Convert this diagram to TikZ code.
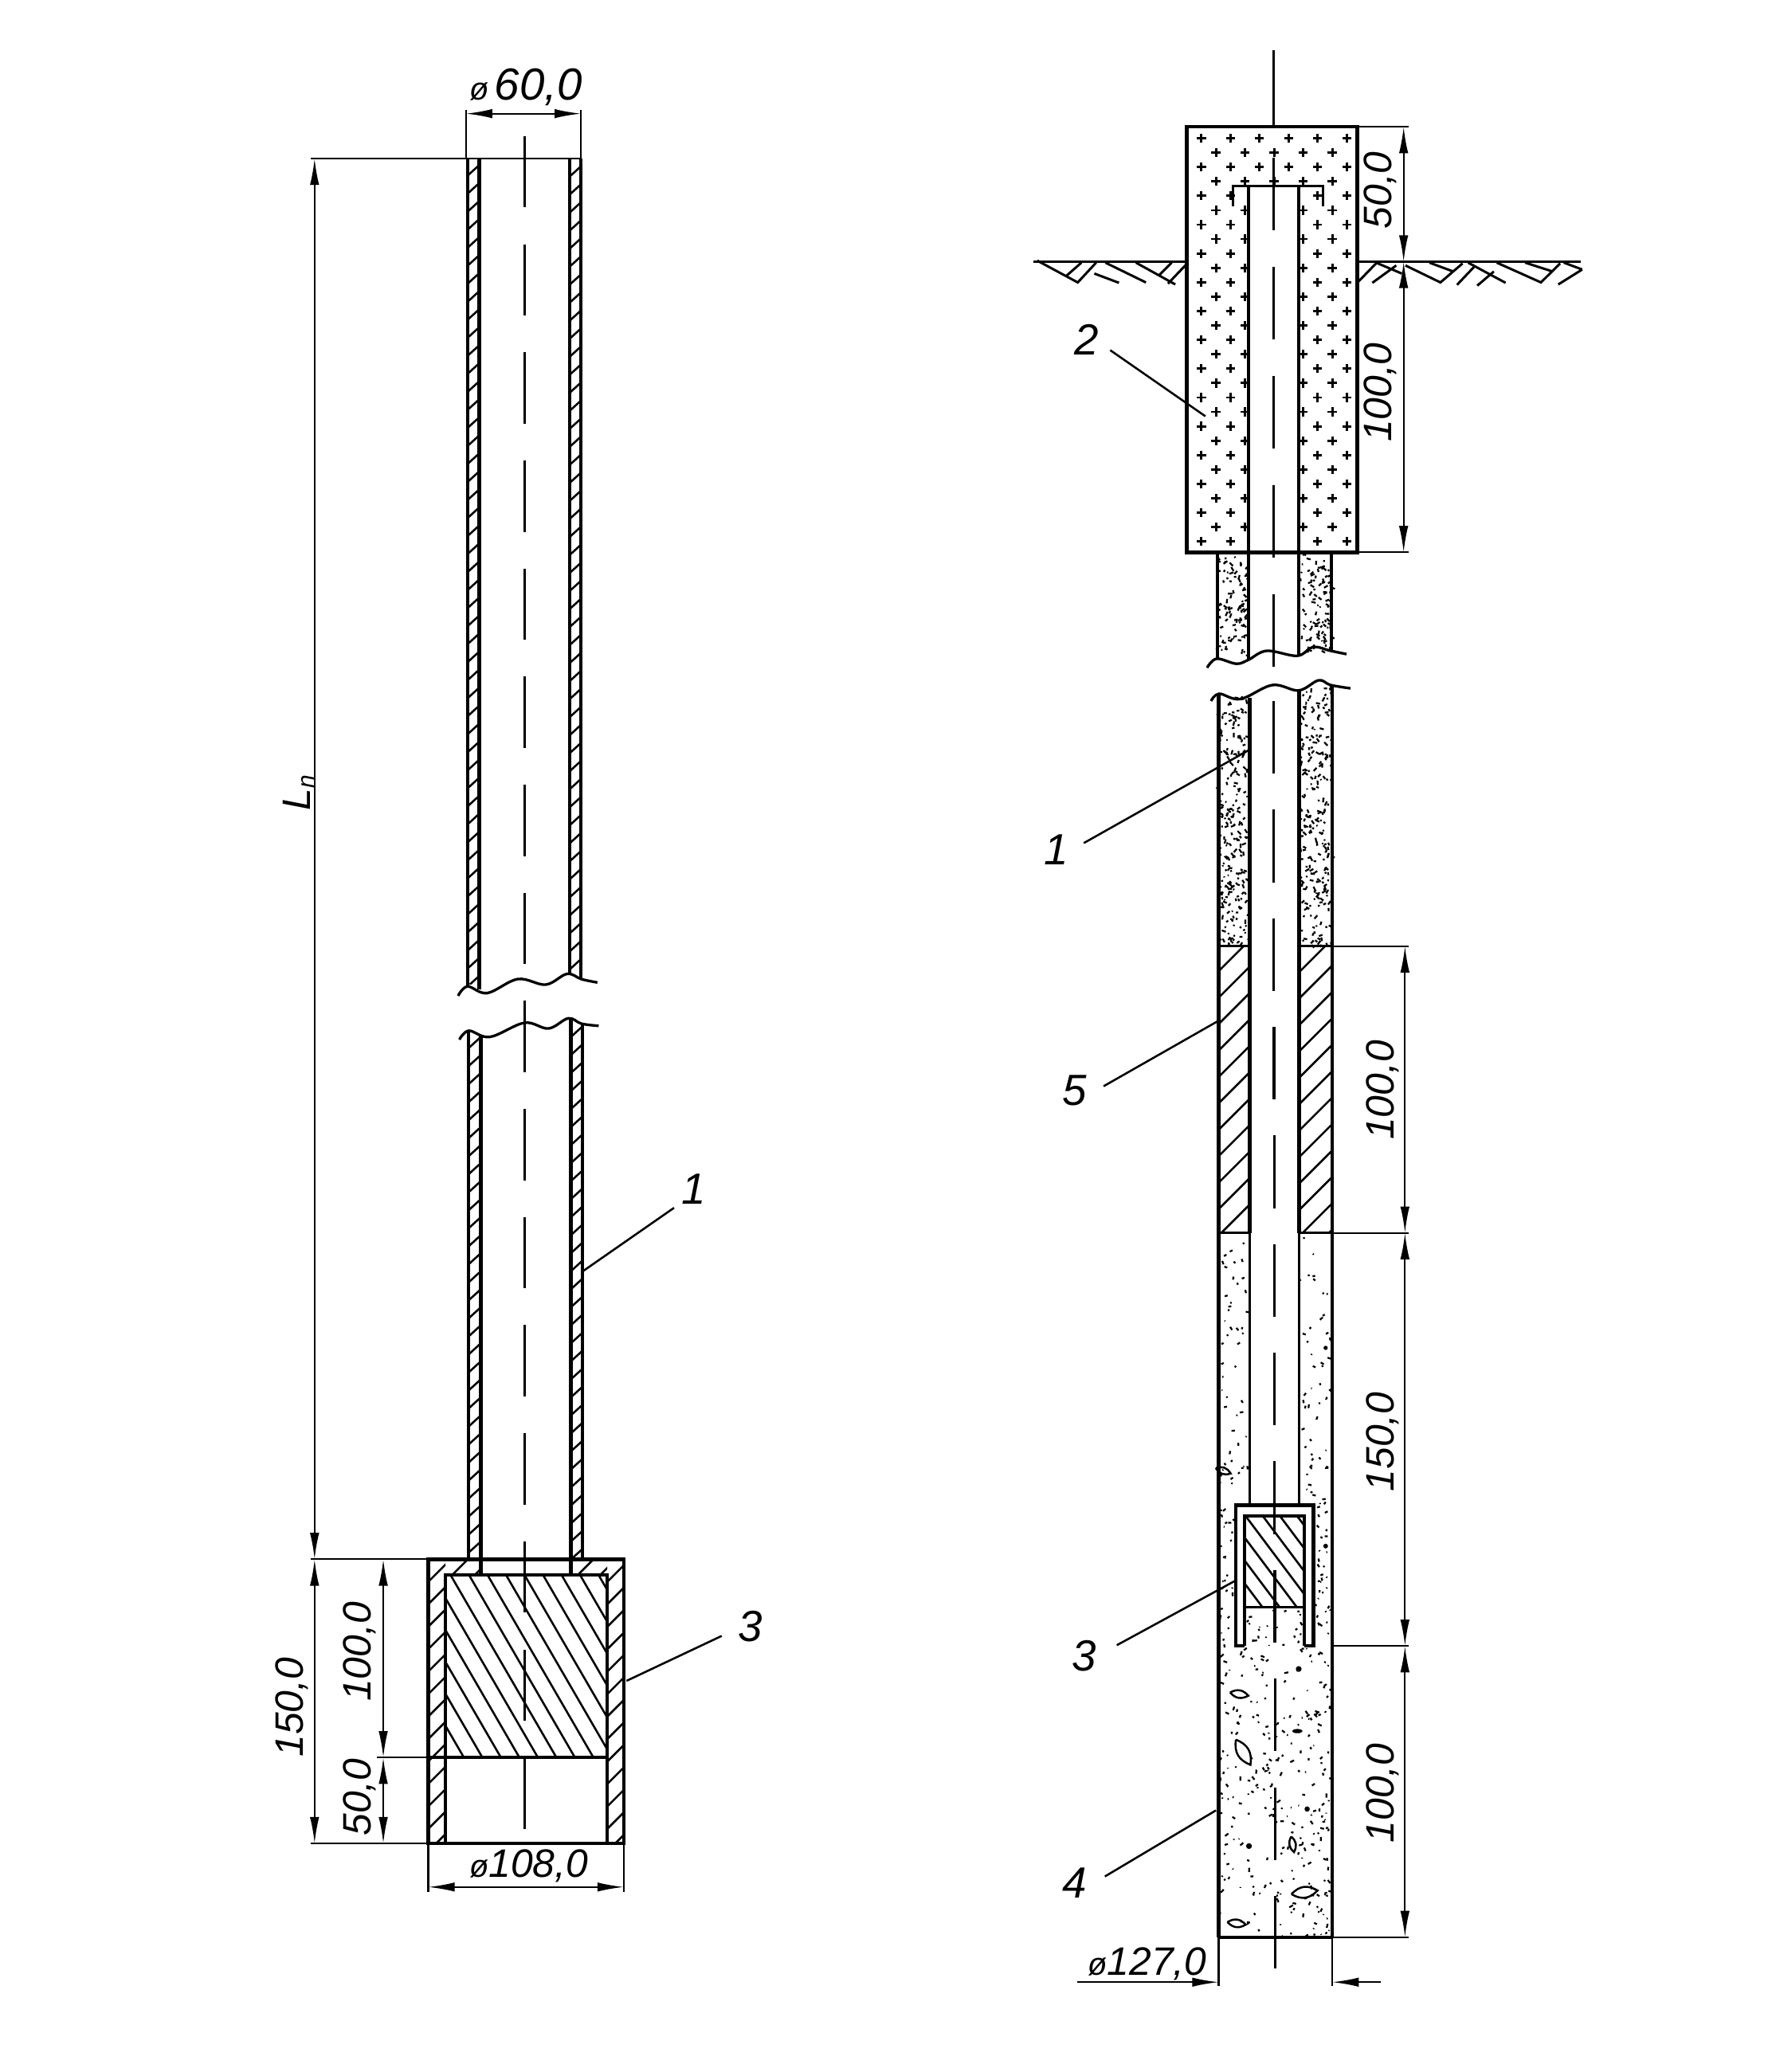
\documentclass[tikz,border=0pt]{standalone}
\usepackage{fontspec}
\setmainfont{Liberation Sans}
\usetikzlibrary{arrows.meta}
\newcommand{\hatchrect}[6]{\begin{scope}
  \clip (#1,#2) rectangle (#3,#4);
  \pgfmathtruncatemacro{\hcount}{((#3-#1)+abs(#6)*(#4-#2))/#5+1}
  \foreach \hk in {0,...,\hcount}{
    \draw[thinl] ({#1-max(#6,0)*(#4-#2)+\hk*#5},#4) -- ++({#6*(#4-#2)},{-(#4-#2)});
  }
\end{scope}}
\newcommand{\specks}[7]{% x1 y1 x2 y2 count minlen maxlen
  \foreach \sk in {1,...,#5}{
    \pgfmathsetmacro{\spx}{#1+rnd*(#3-#1)}
    \pgfmathsetmacro{\spy}{#2+rnd*(#4-#2)}
    \pgfmathsetmacro{\spa}{rnd*180}
    \pgfmathsetmacro{\spl}{#6+rnd*(#7-#6)}
    \draw[line width=1.35pt] (\spx,\spy) -- ++(\spa:\spl);
  }}
\newcommand{\crossmark}[2]{\draw[line width=1.7pt] (#1-3.4,#2) -- (#1+3.4,#2) (#1,#2-3.4) -- (#1,#2+3.4);}
\newcommand{\lens}[4]{\draw[line width=1.5pt,rotate around={#4:(#1,#2)}] (#1-#3,#2) .. controls (#1-#3*.3,#2-#3*.55) and (#1+#3*.3,#2-#3*.55) .. (#1+#3,#2) .. controls (#1+#3*.3,#2+#3*.55) and (#1-#3*.3,#2+#3*.55) .. (#1-#3,#2);}
\tikzset{
  thickl/.style={line width=2.6pt},
  thinl/.style={line width=1.55pt},
  centre/.style={line width=1.9pt},
  dimline/.style={line width=1.3pt},
  dimarrow/.style={line width=1.3pt,{Latex[length=20pt,width=7pt]}-{Latex[length=20pt,width=7pt]}},
  oneend/.style={line width=1.3pt,-{Latex[length=20pt,width=7pt]}},
  wave/.style={line width=2pt,smooth,tension=.6},
  dimtext/.style={font=\fontsize{30}{30}\selectfont\itshape,inner sep=0pt},
  numtext/.style={font=\fontsize{33}{33}\selectfont\itshape,inner sep=0pt},
}
\newcommand{\dia}{{\fontsize{24}{24}\selectfont ø}}
\begin{document}
\begin{tikzpicture}[x=1pt,y=-1pt,line cap=butt]
\useasboundingbox (0,0) rectangle (1340.7,1568);
\fill[white] (0,0) rectangle (1340.7,1568);

%% ================ LEFT FIGURE ================
% wall hatching
\hatchrect{353}{120}{362.7}{745}{15}{1.1}
\hatchrect{431}{120}{439.6}{737}{15}{1.1}
\hatchrect{354}{780}{363.8}{1180}{15}{1.1}
\hatchrect{432}{771}{440.8}{1180}{15}{1.1}
\hatchrect{324}{1180}{337}{1395}{17}{1}
\hatchrect{459.5}{1180}{472}{1395}{17}{1}
\hatchrect{337}{1180}{363.8}{1192}{17}{1}
\hatchrect{432}{1180}{459.5}{1192}{17}{1}
\hatchrect{337}{1192}{459.5}{1330}{14}{-0.58}
% tube walls
\draw[thickl] (353.7,746.5) -- (353.7,120) (362.7,120) -- (362.7,749);
\draw[thickl] (431,737) -- (431,120) (439.6,120) -- (439.6,741);
\draw[thickl] (354.5,780) -- (354.5,1180) (363.8,783) -- (363.8,1192);
\draw[thickl] (432,771) -- (432,1192) (440.8,775) -- (440.8,1180);
% wavy break lines
\draw[wave] plot coordinates {(346.6,753.6) (353.7,746.5) (368.7,751.5) (391.8,740.9) (412.9,745.1) (429,737) (440,741) (452,743.5)};
\draw[wave] plot coordinates {(347.6,786.7) (354.7,780) (370.7,784.7) (396.8,774) (415,778.3) (430,770.6) (440,774.7) (453,776.3)};
% box
\draw[thickl] (324,1180) rectangle (472,1395);
\draw[thickl] (337,1395) -- (337,1192) -- (459.5,1192) -- (459.5,1395);
\draw[thickl] (324,1330) -- (459.5,1330);
\draw[thinl] (353.7,120) -- (235,120);
\draw[thinl] (353.7,120) -- (439.6,120);
% centre line
\foreach \k in {0,...,15}{\draw[centre] (396.8,{103+81.8*\k}) -- ++(0,54);}
% dimensions
\draw[dimline] (352.5,83) -- (352.5,120) (439.6,83) -- (439.6,120);
\draw[dimarrow] (352.5,86) -- (439.6,86);
\node[dimtext,font=\fontsize{34}{34}\selectfont\itshape] (d60) at (398,66) {\dia\hspace{4pt}60,0};
\draw[dimarrow] (238,120) -- (238,1180);
\node[dimtext,rotate=90] (dLn) at (226,600) {L{\fontsize{18}{18}\selectfont\raisebox{-3pt}{n}}};
\draw[dimline] (235,1180) -- (324,1180) (235,1395) -- (324,1395) (285,1330) -- (324,1330);
\draw[dimarrow] (238,1180) -- (238,1395);
\node[dimtext,rotate=90] (d150) at (221,1292) {150,0};
\draw[dimarrow] (290,1180) -- (290,1330);
\draw[dimarrow] (290,1330) -- (290,1395);
\node[dimtext,rotate=90] (d100a) at (272,1250) {100,0};
\node[dimtext,rotate=90] (d50a) at (272,1360) {50,0};
\draw[dimline] (324,1395) -- (324,1432) (472,1395) -- (472,1432);
\draw[dimarrow] (324,1428) -- (472,1428);
\node[dimtext] (d108) at (400,1412) {\dia 108,0};
% leaders
\node[numtext] (n1l) at (525,900) {1};
\node[numtext] (n3l) at (568,1231) {3};
\coordinate (t1l) at (441,962);
\coordinate (t3l) at (474,1272);
\draw[thinl] (t1l) -- (510,914);
\draw[thinl] (t3l) -- (546,1238);

%% ================ RIGHT FIGURE ================
% crosses
\foreach \r in {0,...,28}{
  \pgfmathsetmacro{\yy}{104.6+10.9*\r}
  \pgfmathtruncatemacro{\odd}{mod(\r,2)}
  \ifnum\odd=0
    \foreach \xx in {909,931,953,975,997,1019}{\crossmark{\xx}{\yy}}
  \else
    \foreach \xx in {920,942,964,986,1008}{\crossmark{\xx}{\yy}}
  \fi
}
\fill[white] (944.6,141) rectangle (982.6,418);
\draw[thickl] (898,96) rectangle (1027,418);
\draw[line width=1.9pt] (933,156) -- (933,141) -- (1001,141) -- (1001,156);
\draw[thickl] (944.6,418) -- (944.6,141) (982.6,141) -- (982.6,418);
% ground
\draw[thinl,line width=1.8pt] (782,198) -- (898,198) (1027,198) -- (1196,198);
\begin{scope}[shift={(782,31.17)},x=.2786pt,y=-.3058pt]
\draw[line width=1.8pt] (10,543) -- (120,597) -- (170,548) (90,580) -- (130,548) (165,575) -- (232,598) (195,548) -- (305,597) (278,548) -- (385,602) (340,580) -- (375,548) (365,600) -- (412,555);
\draw[line width=1.8pt] (880,597) -- (930,550) (920,598) -- (985,555) (930,548) -- (1000,575) (1010,555) -- (1105,597) -- (1165,550) (1075,548) -- (1140,570) (1150,603) -- (1200,555) (1205,605) -- (1250,570) (1180,548) -- (1282,598) (1258,548) -- (1378,597) -- (1430,550) (1335,548) -- (1410,570) (1425,602) -- (1490,565) (1440,548) -- (1490,565);
\end{scope}
% sand
\pgfmathsetseed{4711}
\specks{921.5}{419}{944}{497}{95}{.8}{3.6}
\specks{983.5}{419}{1007}{493}{95}{.8}{3.6}
\specks{921.5}{527}{944}{715}{240}{.8}{3.6}
\specks{983.5}{520}{1007}{715}{240}{.8}{3.6}
% hatched segment
\hatchrect{921}{716}{944.6}{933}{20}{1}
\hatchrect{982.6}{716}{1008}{933}{20}{1}
% concrete
\specks{922}{934}{944}{1138}{50}{.5}{2.8}
\specks{984}{934}{1007}{1138}{50}{.5}{2.8}
\specks{922}{1138}{933}{1245}{30}{.5}{2.8}
\specks{995}{1138}{1007}{1245}{30}{.5}{2.8}
\specks{944}{1218}{986}{1245}{22}{.5}{2.8}
\specks{922}{1247}{1007}{1465}{260}{.5}{3.2}
\lens{925.5}{1113}{6}{-20}
\lens{937.6}{1282}{7}{-10}
\lens{940.6}{1326}{11}{-60}
\lens{978}{1395.7}{6}{-80}
\lens{987}{1432}{10}{8}
\lens{935.6}{1455.5}{7}{-8}
\fill (982.6,1263) circle (2.2);
\fill (989,1369) circle (2);
\fill (945,1397) circle (2.2);
\fill (981.6,1310) ellipse (4 and 1.6);
\fill (1003,1170) circle (1.8);
\fill (1003,1020) circle (1.6);
% outer and bore walls
\draw[thickl] (921,419) -- (921,498.5) (1007.5,419) -- (1007.5,492.5);
\draw[thickl] (944.6,418) -- (944.6,499) (982.6,418) -- (982.6,496);
\draw[thickl] (922,525) -- (922,1466) (1008,518) -- (1008,1466);
\draw[thickl] (945.5,528) -- (945.5,933) (983,522) -- (983,933);
\draw[thinl] (945.5,933) -- (945.5,1139) (983,933) -- (983,1139);
\draw[thinl] (922,716) -- (945.5,716) (983,716) -- (1008,716) (922,933) -- (945.5,933) (983,933) -- (1008,933);
\draw[wave] plot coordinates {(913.3,505.3) (920.5,498.5) (935.5,502.3) (944.6,499.3) (958.5,492.5) (981.5,496.3) (993.5,489.6) (1006.7,492.5) (1018.8,495)};
\draw[wave] plot coordinates {(916.3,530.5) (922.4,525) (938.5,529) (962.7,518.4) (982.6,522.5) (997.7,514.8) (1006.7,518.4) (1021.8,520.9)};
% cup and block
\hatchrect{942}{1147}{987}{1216}{13}{-0.75}
\fill[white] (935,1139) rectangle (993.7,1147);
\fill[white] (935,1147) rectangle (942,1245.6);
\fill[white] (987,1147) rectangle (993.7,1245.6);
\draw[thickl] (941.6,1245.6) -- (934.8,1245.6) -- (934.8,1139) -- (993.7,1139) -- (993.7,1245.6) -- (987,1245.6);
\draw[thickl] (941.6,1245.6) -- (941.6,1147) -- (987,1147) -- (987,1245.6);
\draw[line width=1.9pt] (941.6,1216) -- (987,1216);
% centre line
\draw[centre] (963.5,38) -- (963.5,96);
\foreach \k in {0,...,4}{\draw[centre] (963.5,{119.5+82.5*\k}) -- ++(0,55);}
\foreach \k in {0,...,11}{\draw[centre] ({963.5+\k*.13},{530.5+82.2*\k}) -- ++(0,55);}
% bottom
\draw[thickl] (922,1466) -- (1008,1466);
% dimensions
\draw[dimline] (1027,96) -- (1066,96) (1027,418) -- (1066,418);
\draw[dimarrow] (1062,96) -- (1062,198);
\draw[dimarrow] (1062,198) -- (1062,418);
\node[dimtext,rotate=90] (d50b) at (1044,144) {50,0};
\node[dimtext,rotate=90] (d100b) at (1044,297) {100,0};
\draw[dimline] (1008,716) -- (1066,716) (1008,933) -- (1066,933) (1008,1245.6) -- (1066,1245.6) (1008,1466) -- (1066,1466);
\draw[dimarrow] (1063,716) -- (1063,933);
\draw[dimarrow] (1063,933) -- (1063,1245.6);
\draw[dimarrow] (1063,1245.6) -- (1063,1466);
\node[dimtext,rotate=90] (d100c) at (1046,825) {100,0};
\node[dimtext,rotate=90] (d150b) at (1046,1091) {150,0};
\node[dimtext,rotate=90] (d100d) at (1046,1357) {100,0};
\draw[dimline] (922,1466) -- (922,1503) (1008,1466) -- (1008,1503);
\draw[oneend] (815,1500) -- (922,1500);
\draw[oneend] (1045,1500) -- (1008,1500);
\node[dimtext] (d127) at (868,1486) {\dia 127,0};
% leaders
\node[numtext] (n2) at (822,257) {2};
\node[numtext] (n1r) at (799,643) {1};
\node[numtext] (n5) at (813,825) {5};
\node[numtext] (n3r) at (820,1253) {3};
\node[numtext] (n4) at (813,1425) {4};
\coordinate (t2) at (912,315);
\coordinate (t1r) at (946,567);
\coordinate (t5) at (921,773);
\coordinate (t3r) at (935,1196);
\coordinate (t4) at (920,1370);
\draw[thinl] (840,265) -- (t2);
\draw[thinl] (820,638) -- (t1r);
\draw[thinl] (835,822) -- (t5);
\draw[thinl] (845,1245) -- (t3r);
\draw[thinl] (836,1420) -- (t4);
\end{tikzpicture}
\end{document}
